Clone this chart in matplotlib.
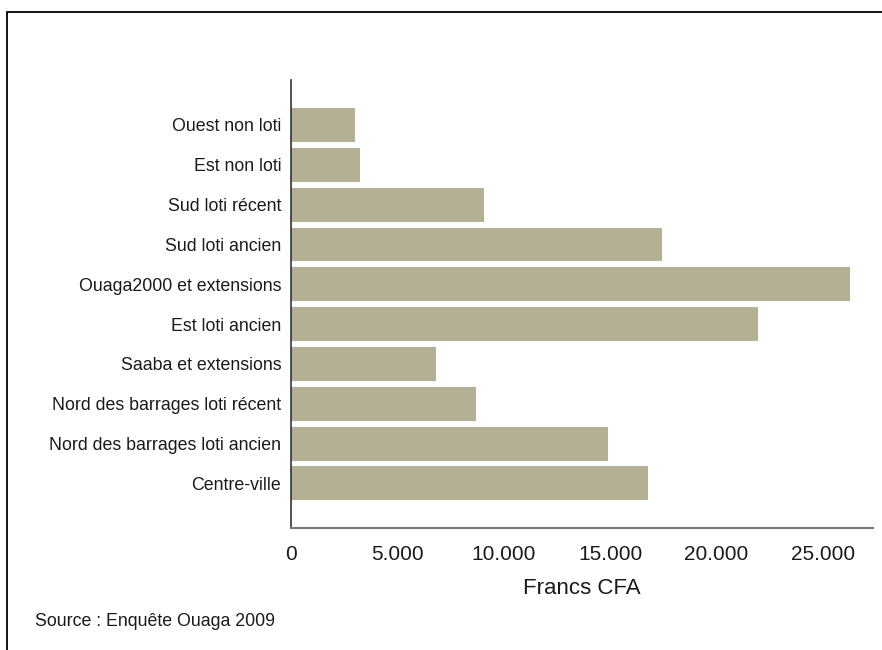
import matplotlib
matplotlib.use('Agg')
import matplotlib.pyplot as plt
from matplotlib.patches import Rectangle

# data (Francs CFA)
quartiers = ['Ouest non loti', 'Est non loti', 'Sud loti récent', 'Sud loti ancien',
             'Ouaga2000 et extensions', 'Est loti ancien', 'Saaba et extensions',
             'Nord des barrages loti récent', 'Nord des barrages loti ancien',
             'Centre-ville']
valeurs = [3000, 3250, 9050, 17450, 26250, 21950, 6800, 8700, 14900, 16800]
xticks = [0, 5000, 10000, 15000, 20000, 25000]
xtick_labels = ['0', '5.000', '10.000', '15.000', '20.000', '25.000']

plt.rcParams['font.family'] = ['Liberation Sans', 'DejaVu Sans']

W, H = 882, 650
fig = plt.figure(figsize=(W / 100, H / 100), dpi=100)

# frame around the figure (right and bottom edges are cut off in the original)
fig.patches.append(Rectangle((7 / W, -0.1), 1.2, (H - 12) / H + 0.1,
                             transform=fig.transFigure, fill=False,
                             edgecolor='black', linewidth=1.3))

left, right, top, bottom = 291, 873, 80, 528
ax = fig.add_axes([left / W, (H - bottom) / H, (right - left) / W, (bottom - top) / H])

pos = list(range(len(quartiers)))
ax.barh(pos, valeurs, height=0.85, color='#b4b094', edgecolor='none')

ax.set_ylim(10.12, -1.13)
ax.set_xlim(0, 27350)
ax.set_yticks(pos)
ax.set_yticklabels(quartiers, fontsize=12.8, color='#1a1a1a')
ax.set_xticks(xticks)
ax.set_xticklabels(xtick_labels, fontsize=15, color='#1a1a1a')
ax.tick_params(axis='both', length=0)
ax.tick_params(axis='y', pad=7)
ax.tick_params(axis='x', pad=12)

for side in ['top', 'right']:
    ax.spines[side].set_visible(False)
ax.spines['left'].set_color('#333333')
ax.spines['left'].set_linewidth(1.2)
ax.spines['bottom'].set_color('#777777')
ax.spines['bottom'].set_linewidth(1.5)

fig.text(582 / W, 1 - 588 / H, 'Francs CFA', fontsize=16, ha='center', va='center',
         color='#1a1a1a')
fig.text(35 / W, 1 - 621 / H, 'Source : Enquête Ouaga 2009', fontsize=12.8,
         ha='left', va='center', color='#1a1a1a')

fig.savefig('out.png', dpi=100)
